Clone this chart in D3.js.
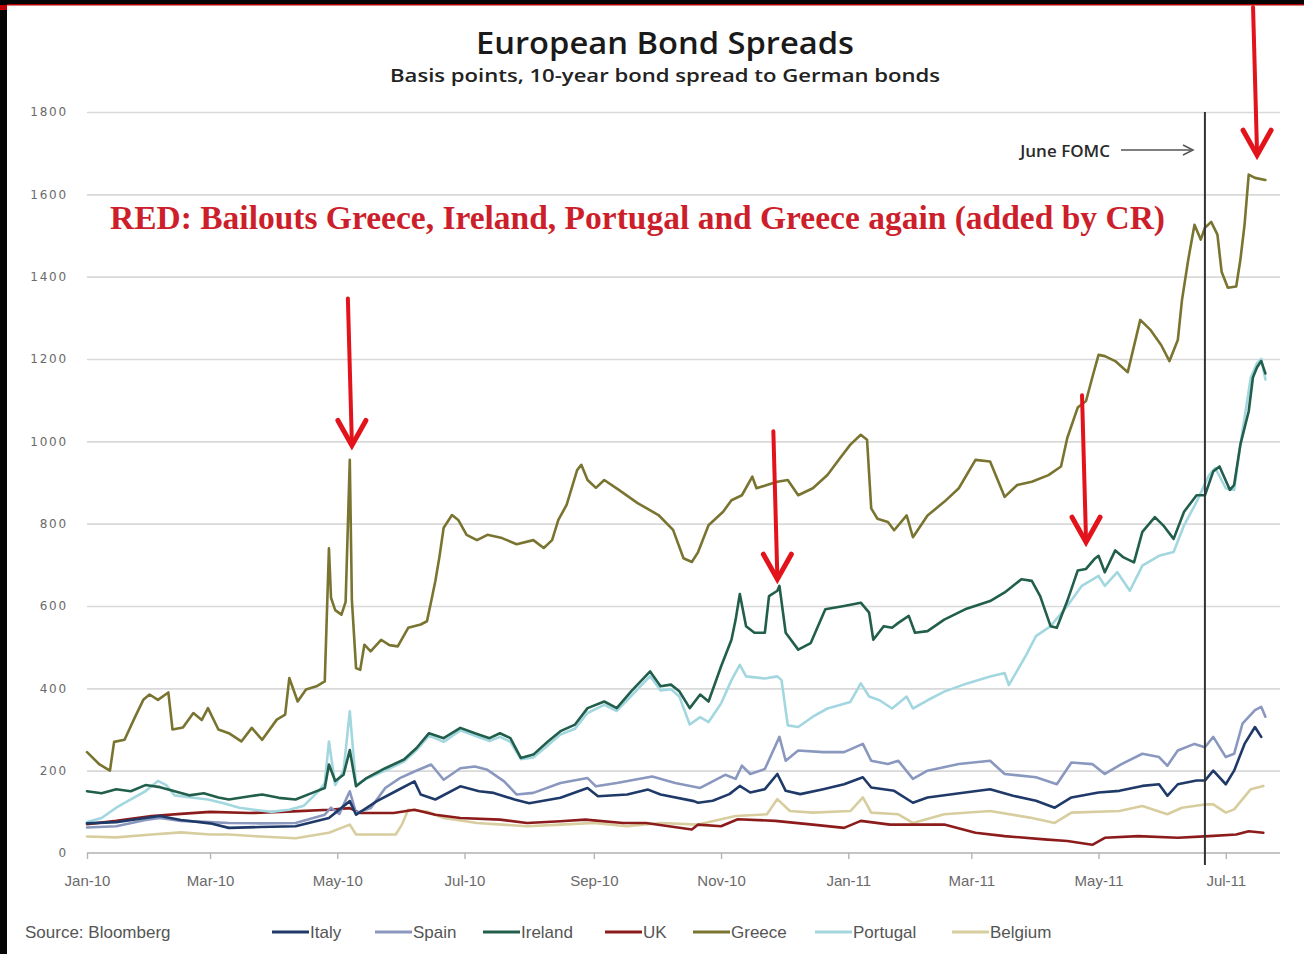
<!DOCTYPE html>
<html><head><meta charset="utf-8">
<script src="https://cdn.jsdelivr.net/npm/d3@7"></script>
<style>body{margin:0;background:#fff}svg{display:block}</style>
</head><body>
<svg id="chart" width="1304" height="954"></svg>
<script>
// ---------- DATA ----------
const seriesNames = ["Italy","Spain","Ireland","UK","Greece","Portugal","Belgium"];
const yTickValues = [0,200,400,600,800,1000,1200,1400,1600,1800];
const xTickDates = ["2010-01-01","2010-03-01","2010-05-01","2010-07-01","2010-09-01","2010-11-01","2011-01-01","2011-03-01","2011-05-01","2011-07-01"];
const xTickLabels = ["Jan-10","Mar-10","May-10","Jul-10","Sep-10","Nov-10","Jan-11","Mar-11","May-11","Jul-11"];
const fomcDate = "2011-06-21";

const greece = [["2010-01-01",245],["2010-01-07",215],["2010-01-12",200],["2010-01-14",270],["2010-01-19",275],["2010-01-24",330],["2010-01-28",372],["2010-01-31",385],["2010-02-04",372],["2010-02-09",390],["2010-02-11",300],["2010-02-16",305],["2010-02-21",340],["2010-02-25",323],["2010-02-28",352],["2010-03-05",300],["2010-03-10",291],["2010-03-16",271],["2010-03-21",304],["2010-03-26",275],["2010-04-02",324],["2010-04-06",336],["2010-04-08",425],["2010-04-12",368],["2010-04-16",397],["2010-04-21",405],["2010-04-25",417],["2010-04-27",740],["2010-04-28",620],["2010-04-30",590],["2010-05-03",579],["2010-05-05",610],["2010-05-07",955],["2010-05-08",615],["2010-05-10",449],["2010-05-12",445],["2010-05-14",506],["2010-05-17",490],["2010-05-22",518],["2010-05-26",505],["2010-05-30",502],["2010-06-04",547],["2010-06-10",555],["2010-06-13",563],["2010-06-15",611],["2010-06-17",660],["2010-06-19",720],["2010-06-21",790],["2010-06-25",821],["2010-06-28",809],["2010-07-02",773],["2010-07-07",760],["2010-07-12",773],["2010-07-19",765],["2010-07-26",750],["2010-08-03",760],["2010-08-08",741],["2010-08-12",760],["2010-08-15",809],["2010-08-19",846],["2010-08-24",930],["2010-08-26",943],["2010-08-29",906],["2010-09-02",887],["2010-09-06",906],["2010-09-13",882],["2010-09-22",850],["2010-10-02",821],["2010-10-09",785],["2010-10-14",716],["2010-10-18",707],["2010-10-21",731],["2010-10-26",796],["2010-11-02",829],["2010-11-06",857],["2010-11-11",869],["2010-11-16",914],["2010-11-18",886],["2010-11-23",894],["2010-11-28",902],["2010-12-03",906],["2010-12-08",869],["2010-12-15",886],["2010-12-22",918],["2010-12-28",959],["2011-01-02",992],["2011-01-07",1016],["2011-01-10",1004],["2011-01-12",837],["2011-01-15",812],["2011-01-20",804],["2011-01-23",784],["2011-01-29",820],["2011-02-01",767],["2011-02-08",820],["2011-02-16",853],["2011-02-23",886],["2011-03-03",955],["2011-03-10",951],["2011-03-17",865],["2011-03-23",894],["2011-03-30",902],["2011-04-07",918],["2011-04-13",939],["2011-04-16",1008],["2011-04-21",1082],["2011-04-25",1098],["2011-04-28",1155],["2011-05-01",1210],["2011-05-04",1207],["2011-05-09",1195],["2011-05-15",1168],["2011-05-21",1295],["2011-05-26",1270],["2011-05-31",1234],["2011-06-04",1195],["2011-06-08",1246],["2011-06-10",1343],["2011-06-13",1441],["2011-06-16",1526],["2011-06-19",1490],["2011-06-21",1519],["2011-06-24",1533],["2011-06-27",1502],["2011-06-29",1412],["2011-07-02",1373],["2011-07-06",1376],["2011-07-08",1441],["2011-07-10",1526],["2011-07-12",1648],["2011-07-15",1640],["2011-07-20",1635]];

const ireland = [["2010-01-01",150],["2010-01-08",145],["2010-01-15",155],["2010-01-22",150],["2010-01-29",165],["2010-02-05",160],["2010-02-12",150],["2010-02-19",140],["2010-02-26",145],["2010-03-05",135],["2010-03-10",130],["2010-03-20",138],["2010-03-26",142],["2010-04-03",134],["2010-04-11",130],["2010-04-19",146],["2010-04-25",158],["2010-04-27",215],["2010-04-30",175],["2010-05-04",190],["2010-05-07",250],["2010-05-10",162],["2010-05-15",182],["2010-05-24",206],["2010-06-02",227],["2010-06-08",255],["2010-06-14",291],["2010-06-21",279],["2010-06-29",304],["2010-07-06",291],["2010-07-13",279],["2010-07-18",291],["2010-07-23",279],["2010-07-28",231],["2010-08-03",239],["2010-08-10",271],["2010-08-16",296],["2010-08-23",312],["2010-08-29",352],["2010-09-06",368],["2010-09-12",352],["2010-09-19",393],["2010-09-28",441],["2010-10-03",405],["2010-10-08",409],["2010-10-12",393],["2010-10-17",352],["2010-10-22",385],["2010-10-26",368],["2010-11-01",453],["2010-11-06",518],["2010-11-08",567],["2010-11-10",629],["2010-11-13",551],["2010-11-17",535],["2010-11-22",535],["2010-11-24",624],["2010-11-28",637],["2010-11-29",649],["2010-12-02",535],["2010-12-08",494],["2010-12-14",510],["2010-12-21",592],["2010-12-30",600],["2011-01-07",608],["2011-01-11",584],["2011-01-13",518],["2011-01-18",551],["2011-01-22",547],["2011-01-25",559],["2011-01-30",576],["2011-02-02",535],["2011-02-08",539],["2011-02-16",567],["2011-02-26",592],["2011-03-10",612],["2011-03-17",633],["2011-03-25",665],["2011-03-30",661],["2011-04-03",624],["2011-04-08",551],["2011-04-11",547],["2011-04-16",612],["2011-04-21",686],["2011-04-25",690],["2011-04-29",714],["2011-05-01",722],["2011-05-04",682],["2011-05-09",735],["2011-05-13",718],["2011-05-18",706],["2011-05-22",780],["2011-05-28",816],["2011-06-01",796],["2011-06-06",763],["2011-06-11",829],["2011-06-17",869],["2011-06-21",869],["2011-06-25",927],["2011-06-28",939],["2011-07-03",882],["2011-07-05",894],["2011-07-08",992],["2011-07-12",1073],["2011-07-14",1155],["2011-07-16",1180],["2011-07-18",1195],["2011-07-20",1165]];

const portugal = [["2010-01-01",75],["2010-01-08",85],["2010-01-15",110],["2010-01-22",130],["2010-01-29",150],["2010-02-04",175],["2010-02-08",165],["2010-02-12",140],["2010-02-20",135],["2010-02-28",130],["2010-03-08",120],["2010-03-15",110],["2010-03-22",105],["2010-03-30",100],["2010-04-08",105],["2010-04-15",115],["2010-04-22",150],["2010-04-25",170],["2010-04-27",271],["2010-04-30",165],["2010-05-04",200],["2010-05-07",344],["2010-05-10",165],["2010-05-15",180],["2010-05-24",200],["2010-06-02",222],["2010-06-08",250],["2010-06-14",285],["2010-06-21",270],["2010-06-29",298],["2010-07-06",285],["2010-07-13",272],["2010-07-18",282],["2010-07-23",270],["2010-07-28",228],["2010-08-03",232],["2010-08-10",262],["2010-08-16",288],["2010-08-23",302],["2010-08-29",340],["2010-09-06",360],["2010-09-12",345],["2010-09-19",382],["2010-09-28",430],["2010-10-03",395],["2010-10-08",398],["2010-10-12",380],["2010-10-17",312],["2010-10-22",330],["2010-10-26",318],["2010-11-01",363],["2010-11-06",420],["2010-11-10",457],["2010-11-13",429],["2010-11-22",424],["2010-11-28",429],["2010-11-30",420],["2010-12-03",310],["2010-12-08",306],["2010-12-15",331],["2010-12-22",351],["2011-01-02",367],["2011-01-07",412],["2011-01-11",380],["2011-01-16",371],["2011-01-22",351],["2011-01-29",380],["2011-02-01",351],["2011-02-08",371],["2011-02-16",392],["2011-02-27",412],["2011-03-10",429],["2011-03-17",437],["2011-03-19",408],["2011-03-27",478],["2011-04-01",527],["2011-04-08",551],["2011-04-16",600],["2011-04-23",649],["2011-05-01",673],["2011-05-04",649],["2011-05-10",682],["2011-05-16",637],["2011-05-22",698],["2011-05-30",722],["2011-06-06",731],["2011-06-11",796],["2011-06-17",853],["2011-06-23",918],["2011-06-26",935],["2011-07-01",886],["2011-07-05",882],["2011-07-08",992],["2011-07-13",1155],["2011-07-16",1190],["2011-07-18",1200],["2011-07-20",1150]];

const spain = [["2010-01-01",62],["2010-01-15",65],["2010-01-29",80],["2010-02-05",85],["2010-02-15",78],["2010-03-01",75],["2010-03-10",73],["2010-03-25",72],["2010-04-11",73],["2010-04-25",93],["2010-04-28",110],["2010-05-02",95],["2010-05-07",150],["2010-05-10",97],["2010-05-17",109],["2010-05-24",158],["2010-05-31",182],["2010-06-07",198],["2010-06-15",215],["2010-06-21",178],["2010-06-29",206],["2010-07-06",210],["2010-07-12",202],["2010-07-20",174],["2010-07-26",142],["2010-08-03",146],["2010-08-16",170],["2010-08-29",182],["2010-09-02",162],["2010-09-12",170],["2010-09-29",186],["2010-10-10",170],["2010-10-22",158],["2010-11-03",190],["2010-11-08",180],["2010-11-11",212],["2010-11-15",192],["2010-11-22",204],["2010-11-29",282],["2010-12-02",224],["2010-12-08",249],["2010-12-20",245],["2010-12-30",245],["2011-01-08",265],["2011-01-12",224],["2011-01-20",216],["2011-01-25",224],["2011-02-01",180],["2011-02-08",200],["2011-02-23",216],["2011-03-10",224],["2011-03-17",192],["2011-04-01",184],["2011-04-11",167],["2011-04-18",220],["2011-04-28",216],["2011-05-04",192],["2011-05-12",216],["2011-05-22",241],["2011-05-30",233],["2011-06-03",212],["2011-06-08",249],["2011-06-16",265],["2011-06-21",257],["2011-06-25",282],["2011-07-01",233],["2011-07-05",241],["2011-07-09",314],["2011-07-15",347],["2011-07-18",355],["2011-07-20",331]];

const italy = [["2010-01-01",72],["2010-01-15",75],["2010-01-29",85],["2010-02-05",90],["2010-02-15",80],["2010-03-01",72],["2010-03-10",61],["2010-03-25",63],["2010-04-11",65],["2010-04-27",85],["2010-05-07",126],["2010-05-10",93],["2010-05-20",126],["2010-05-29",150],["2010-06-07",174],["2010-06-10",142],["2010-06-17",130],["2010-06-29",162],["2010-07-08",150],["2010-07-15",146],["2010-07-25",130],["2010-08-01",121],["2010-08-16",134],["2010-08-29",158],["2010-09-03",138],["2010-09-17",142],["2010-09-27",154],["2010-10-03",142],["2010-10-19",126],["2010-10-21",122],["2010-10-28",127],["2010-11-05",143],["2010-11-10",163],["2010-11-15",147],["2010-11-22",155],["2010-11-28",192],["2010-12-02",151],["2010-12-09",143],["2010-12-20",155],["2010-12-30",167],["2011-01-08",184],["2011-01-12",159],["2011-01-23",151],["2011-02-01",122],["2011-02-08",135],["2011-02-26",147],["2011-03-10",155],["2011-03-21",139],["2011-04-01",127],["2011-04-10",110],["2011-04-18",135],["2011-05-01",147],["2011-05-11",151],["2011-05-22",163],["2011-05-30",167],["2011-06-03",139],["2011-06-08",167],["2011-06-17",176],["2011-06-21",176],["2011-06-25",200],["2011-07-01",167],["2011-07-05",200],["2011-07-10",265],["2011-07-15",306],["2011-07-18",282]];

const uk = [["2010-01-01",70],["2010-01-15",78],["2010-02-01",90],["2010-02-15",95],["2010-03-01",100],["2010-03-20",97],["2010-04-10",101],["2010-04-27",105],["2010-05-07",109],["2010-05-12",97],["2010-05-28",97],["2010-06-07",105],["2010-06-17",93],["2010-06-29",85],["2010-07-18",81],["2010-07-31",73],["2010-08-16",77],["2010-08-28",81],["2010-09-15",73],["2010-09-26",73],["2010-10-18",57],["2010-10-21",69],["2010-11-01",65],["2010-11-09",82],["2010-11-27",78],["2010-12-15",69],["2010-12-30",61],["2011-01-07",78],["2011-01-21",69],["2011-02-16",69],["2011-03-03",49],["2011-03-17",41],["2011-04-05",33],["2011-04-16",29],["2011-04-28",20],["2011-05-04",37],["2011-05-20",41],["2011-06-08",37],["2011-06-23",41],["2011-07-06",45],["2011-07-12",53],["2011-07-19",49]];

const belgium = [["2010-01-01",40],["2010-01-15",38],["2010-02-01",45],["2010-02-15",50],["2010-03-01",45],["2010-03-10",45],["2010-03-25",40],["2010-04-11",36],["2010-04-27",49],["2010-05-07",69],["2010-05-10",45],["2010-05-29",45],["2010-06-01",69],["2010-06-04",105],["2010-06-13",101],["2010-06-21",85],["2010-07-07",73],["2010-07-31",65],["2010-08-16",69],["2010-09-01",73],["2010-09-17",65],["2010-10-03",73],["2010-10-21",69],["2010-11-08",90],["2010-11-23",94],["2010-11-28",131],["2010-12-04",102],["2010-12-15",98],["2011-01-02",102],["2011-01-08",135],["2011-01-12",98],["2011-01-25",94],["2011-02-01",73],["2011-02-16",94],["2011-03-10",102],["2011-03-29",86],["2011-04-10",73],["2011-04-18",98],["2011-05-11",102],["2011-05-22",114],["2011-06-03",94],["2011-06-10",110],["2011-06-21",118],["2011-06-25",118],["2011-07-01",98],["2011-07-05",106],["2011-07-13",155],["2011-07-19",163]];

const seriesValues = {Italy: italy, Spain: spain, Ireland: ireland, UK: uk, Greece: greece, Portugal: portugal, Belgium: belgium};
const seriesColors = {Italy:"#1f3a68", Spain:"#8a98bf", Ireland:"#215e4b", UK:"#8c1c1c", Greece:"#7a7431", Portugal:"#a3d7e0", Belgium:"#d8cd9e"};
const drawOrder = ["Belgium","UK","Portugal","Spain","Italy","Ireland","Greece"];

// annotation arrows: [date of tip, value at tip, shaft length px]
const bailoutArrows = [["2010-05-08",990,147],["2011-11-28".replace("2011-11","2010-11"),665,148],["2011-04-25",755,147],["2011-07-16",1695,148]];

// ---------- CHART ----------
const parse = d3.timeParse("%Y-%m-%d");
const svg = d3.select("#chart");
const W = 1304, H = 954;
svg.append("rect").attr("width",W).attr("height",H).attr("fill","#fff");

const x = d3.scaleTime().domain([parse("2010-01-01"), parse("2011-07-27")]).range([87, 1280]);
const y = d3.scaleLinear().domain([0,1800]).range([853,112]);

// gridlines + y labels
const yAxis = d3.axisLeft(y).tickValues(yTickValues).tickSize(-(1280-87)).tickFormat(d3.format("d")).tickPadding(19);
const gy = svg.append("g").attr("transform","translate(87,0)").call(yAxis);
gy.select(".domain").remove();
gy.selectAll(".tick line").attr("stroke","#d9d9d9").attr("stroke-width",1.6).filter(d=>d===0).remove();
gy.selectAll(".tick text").attr("fill","#6a6a6a").style("font-family","DejaVu Sans").style("font-size","12px").style("letter-spacing","1.8px");

// x axis
const xAxis = d3.axisBottom(x).tickValues(xTickDates.map(parse)).tickFormat((d,i)=>xTickLabels[i]).tickSize(6).tickPadding(16);
const gx = svg.append("g").attr("transform","translate(0,853)").call(xAxis);
gx.select(".domain").attr("stroke","#c4c4c4").attr("stroke-width",2.2).attr("d","M87,0H1280");
gx.selectAll(".tick line").attr("stroke","#b5b5b5").attr("stroke-width",1.4);
gx.selectAll(".tick text").attr("fill","#6a6a6a").style("font-family","Liberation Sans Narrow, Liberation Sans").style("font-size","15px");

// series
const line = d3.line().x(d=>x(parse(d[0]))).y(d=>y(d[1])).curve(d3.curveLinear);
drawOrder.forEach(name=>{
  svg.append("path").datum(seriesValues[name]).attr("d",line)
    .attr("fill","none").attr("stroke",seriesColors[name]).attr("stroke-width",2.6)
    .attr("stroke-linejoin","round").attr("stroke-linecap","round");
});

// June FOMC vertical line
const fx = x(parse(fomcDate));
svg.append("line").attr("x1",fx).attr("x2",fx).attr("y1",y(1800)).attr("y2",865).attr("stroke","#333").attr("stroke-width",2);
svg.append("text").attr("x",1110).attr("y",157).attr("text-anchor","end").text("June FOMC")
  .style("font-family","Open Sans").style("font-size","17px").style("font-weight","600").attr("fill","#2a2a2a");
svg.append("line").attr("x1",1121).attr("x2",1192).attr("y1",150).attr("y2",150).attr("stroke","#555").attr("stroke-width",1.5);
svg.append("path").attr("d","M1183,145L1193,150L1183,155").attr("fill","none").attr("stroke","#555").attr("stroke-width",1.5);

// red arrows
bailoutArrows.forEach(a=>{
  const tx = x(parse(a[0])), ty = y(a[1]);
  const g = svg.append("g").attr("stroke","#e3131b").attr("fill","none").attr("stroke-linecap","round");
  g.append("line").attr("x1",tx-4).attr("y1",ty-a[2]).attr("x2",tx).attr("y2",ty-2).attr("stroke-width",4);
  g.append("path").attr("d",`M${tx-14},${ty-25}L${tx},${ty}L${tx+14},${ty-25}`).attr("stroke-width",5).attr("stroke-linejoin","miter");
});

// red text
svg.append("text").attr("x",110).attr("y",229).attr("textLength",1055).attr("lengthAdjust","spacingAndGlyphs")
  .text("RED: Bailouts Greece, Ireland, Portugal and Greece again (added by CR)")
  .style("font-family","Liberation Serif").style("font-weight","bold").style("font-size","33px").attr("fill","#cc1f2b");

// title
svg.append("text").attr("x",665).attr("y",54).attr("text-anchor","middle").attr("textLength",378).attr("lengthAdjust","spacingAndGlyphs")
  .text("European Bond Spreads").style("font-family","Open Sans").style("font-weight","600").style("font-size","30px").attr("fill","#1a1a1a");
svg.append("text").attr("x",665).attr("y",82).attr("text-anchor","middle").attr("textLength",550).attr("lengthAdjust","spacingAndGlyphs")
  .text("Basis points, 10-year bond spread to German bonds").style("font-family","Open Sans").style("font-weight","600").style("font-size","18px").attr("fill","#222");

// legend
svg.append("text").attr("x",25).attr("y",938).text("Source: Bloomberg").style("font-family","Liberation Sans Narrow, Liberation Sans").style("font-size","17px").attr("fill","#555");
const legX = [272,375,483,605,693,815,952];
const legend = svg.append("g");
seriesNames.forEach((n,i)=>{
  legend.append("line").attr("x1",legX[i]).attr("x2",legX[i]+37).attr("y1",932).attr("y2",932).attr("stroke",seriesColors[n]).attr("stroke-width",3.2);
  legend.append("text").attr("x",legX[i]+38).attr("y",938).text(n).style("font-family","Liberation Sans Narrow, Liberation Sans").style("font-size","17px").attr("fill","#555");
});

// frame strips
svg.append("rect").attr("x",0).attr("y",0).attr("width",W).attr("height",4).attr("fill","#050505");
svg.append("rect").attr("x",0).attr("y",4).attr("width",W).attr("height",1.5).attr("fill","#b00000");
svg.append("rect").attr("x",0).attr("y",0).attr("width",7).attr("height",H).attr("fill","#050505");
svg.append("rect").attr("x",0).attr("y",5).attr("width",7).attr("height",5).attr("fill","#c00000");
</script>
</body></html>
